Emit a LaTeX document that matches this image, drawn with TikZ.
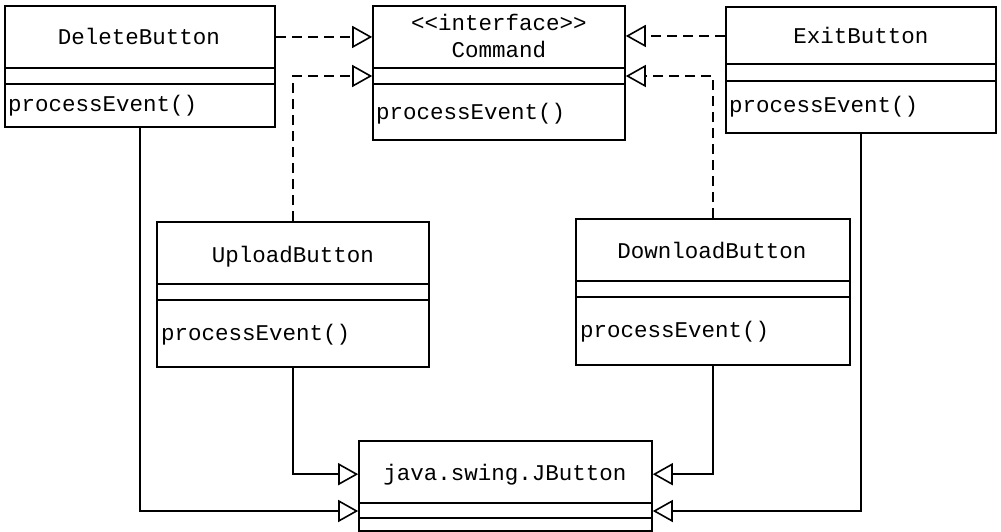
\documentclass[tikz,border=0pt]{standalone}
\usepackage{fontspec}
\setmonofont{Liberation Mono}
\usepackage{tikz}
\usetikzlibrary{arrows.meta}

\begin{document}
\begin{tikzpicture}[x=1pt,y=-1pt,
  every node/.style={font=\ttfamily\fontsize{22.5}{27}\selectfont,inner sep=0pt},
  classbox/.style={draw,line width=1.6pt},
  sepline/.style={line width=1.6pt},
  realize/.style={line width=1.6pt,dash pattern=on 10pt off 6pt,-{Triangle[open,length=20pt,width=22pt]}},
  extend/.style={line width=1.6pt,-{Triangle[open,length=20pt,width=22pt]}}]
  \useasboundingbox (0,0) rectangle (1001,532);
  % Class boxes
  \node[classbox,minimum width=270pt,minimum height=121pt] (del) at (140,66.5) {};
  \node[classbox,minimum width=252pt,minimum height=134pt] (cmd) at (499,73) {};
  \node[classbox,minimum width=270pt,minimum height=126pt] (exit) at (861,70) {};
  \node[classbox,minimum width=272pt,minimum height=145pt] (up) at (293,294.5) {};
  \node[classbox,minimum width=274pt,minimum height=146pt] (down) at (713,292) {};
  \node[classbox,minimum width=293pt,minimum height=90pt] (jb) at (505.5,486) {};
  % Compartment lines
  \draw[sepline] (del.west |- 0,68) -- (del.east |- 0,68);
  \draw[sepline] (del.west |- 0,84) -- (del.east |- 0,84);
  \draw[sepline] (cmd.west |- 0,68) -- (cmd.east |- 0,68);
  \draw[sepline] (cmd.west |- 0,84) -- (cmd.east |- 0,84);
  \draw[sepline] (exit.west |- 0,64) -- (exit.east |- 0,64);
  \draw[sepline] (exit.west |- 0,81) -- (exit.east |- 0,81);
  \draw[sepline] (up.west |- 0,284) -- (up.east |- 0,284);
  \draw[sepline] (up.west |- 0,300) -- (up.east |- 0,300);
  \draw[sepline] (down.west |- 0,281) -- (down.east |- 0,281);
  \draw[sepline] (down.west |- 0,297) -- (down.east |- 0,297);
  \draw[sepline] (jb.west |- 0,503) -- (jb.east |- 0,503);
  \draw[sepline] (jb.west |- 0,518) -- (jb.east |- 0,518);
  % Names and operations
  \node[anchor=base] (delname) at (139,45) {DeleteButton};
  \node[anchor=base west] (delop) at (8,112) {processEvent()};
  \node[anchor=base] (cmdst) at (499,31) {<<interface>>};
  \node[anchor=base] (cmdname) at (499,58) {Command};
  \node[anchor=base west] (cmdop) at (376,120) {processEvent()};
  \node[anchor=base] (exitname) at (861,44) {ExitButton};
  \node[anchor=base west] (exitop) at (729,113) {processEvent()};
  \node[anchor=base] (upname) at (293,262) {UploadButton};
  \node[anchor=base west] (upop) at (161,340) {processEvent()};
  \node[anchor=base] (downname) at (712,258) {DownloadButton};
  \node[anchor=base west] (downop) at (580,337) {processEvent()};
  \node[anchor=base] (jbname) at (505,480) {java.swing.JButton};
  \coordinate (cmdmid) at (499,76);
  \coordinate (jbmid) at (505,511);
  % Realizations of Command
  \draw[realize] (del.east |- delname) -- (cmd.west |- delname);
  \draw[realize] (exit.west |- exitname) -- (cmd.east |- exitname);
  \draw[realize] (up.north) |- (cmd.west |- cmdmid);
  \draw[realize] (down.north) |- (cmd.east |- cmdmid);
  % Generalizations of JButton
  \draw[extend] (up.south) |- (jb.west |- jbname);
  \draw[extend] (down.south) |- (jb.east |- jbname);
  \draw[extend] (del.south) |- (jb.west |- jbmid);
  \draw[extend] (exit.south) |- (jb.east |- jbmid);
\end{tikzpicture}
\end{document}
